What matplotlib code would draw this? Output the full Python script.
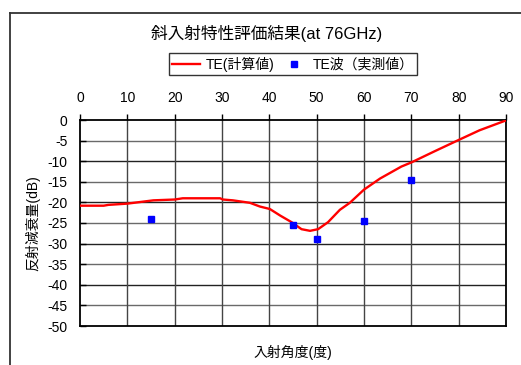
import matplotlib
matplotlib.use("Agg")
import matplotlib.pyplot as plt
from matplotlib.lines import Line2D

plt.rcParams["font.family"] = ["Liberation Sans", "Noto Sans CJK JP"]
plt.rcParams["axes.unicode_minus"] = False

# calculated TE reflection loss vs incidence angle
calc_angle = [0, 5, 6, 10, 15.5, 20, 21.7, 29.6, 30.2, 32.3, 35.9, 38, 40.1, 42.3,
              44.7, 46.8, 48.6, 50.3, 52.4, 54.9, 57, 58.5, 60, 63.4, 67.9, 70,
              74.9, 79.9, 84.4, 90]
calc_db = [-20.8, -20.8, -20.6, -20.3, -19.5, -19.3, -19.0, -19.0, -19.3, -19.5,
           -20.1, -21.0, -21.6, -23.2, -24.8, -26.5, -26.9, -26.5, -24.8, -21.8,
           -20.1, -18.5, -16.9, -14.2, -11.3, -10.3, -7.6, -4.9, -2.5, -0.1]

# measured TE values
meas_angle = [15, 45, 50, 60, 70]
meas_db = [-24.0, -25.5, -28.8, -24.4, -14.5]

W, H = 521, 365
fig = plt.figure(figsize=(W / 100, H / 100), dpi=100)

# outer chart frame (runs off the right / bottom edge)
fig.add_artist(Line2D([9.5 / W, 9.5 / W], [0, 1 - 12.5 / H], color="#333333", lw=1.3))
fig.add_artist(Line2D([9.5 / W, 1], [1 - 12.5 / H, 1 - 12.5 / H], color="#333333", lw=1.3))

ax = fig.add_axes([80 / W, 1 - 326 / H, 426 / W, 206 / H])

for y in range(-45, 0, 5):
    ax.axhline(y, color="#222222" if y % 10 == 0 else "#6a6a6a", lw=1.0, zorder=1)
for x in range(10, 90, 10):
    ax.axvline(x, color="#444444", lw=1.0, zorder=1)

ax.plot(calc_angle, calc_db, color="#ff0000", lw=1.7, zorder=3, label="TE(計算値)")
ax.plot(meas_angle, meas_db, ls="none", marker="s", ms=4.0, color="#0000ff",
        zorder=4, label="TE波（実測値）")

ax.set_xlim(0, 90)
ax.set_ylim(-50, 0)
ax.set_xticks(range(0, 91, 10))
ax.set_yticks(range(-50, 1, 5))
ax.xaxis.tick_top()
ax.tick_params(axis="x", direction="out", length=4, width=1, pad=7, labelsize=10)
ax.tick_params(axis="y", direction="in", length=4, width=1, pad=9, labelsize=10)
for s in ax.spines.values():
    s.set_linewidth(1.3)
    s.set_color("black")

ax.set_ylabel("反射減衰量(dB)", fontsize=10, labelpad=5)

fig.text(293 / W, 1 - 352 / H, "入射角度(度)", ha="center", va="center", fontsize=10)
fig.text(267 / W, 1 - 33 / H, "斜入射特性評価結果(at 76GHz)", ha="center",
         va="center", fontsize=12)

leg = fig.legend(loc="center", bbox_to_anchor=(293 / W, 1 - 64 / H), ncol=2,
                 fontsize=10, frameon=True, fancybox=False, handlelength=2.0,
                 columnspacing=0.4, borderpad=0.25, handletextpad=0.4,
                 borderaxespad=0)
leg.get_frame().set_edgecolor("black")
leg.get_frame().set_linewidth(1.0)

fig.savefig("out.png", dpi=100)
